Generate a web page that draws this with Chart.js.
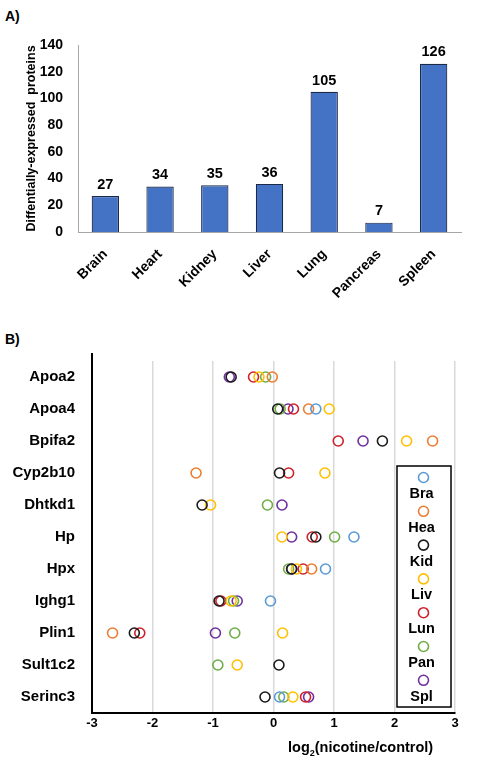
<!DOCTYPE html>
<html>
<head>
<meta charset="utf-8">
<script src="https://cdn.jsdelivr.net/npm/chart.js@4.4.1/dist/chart.umd.min.js"></script>
<style>
  body { margin: 0; background: #fff; font-family: "Liberation Sans", Arial, sans-serif; }
  #page { position: relative; width: 480px; height: 763px; overflow: hidden; }
  .panel-tag { position: absolute; left: 5px; font-weight: bold; font-size: 14px; color: #000; }
  #boxA { position: absolute; left: 0; top: 0; width: 480px; height: 300px; }
  #boxB { position: absolute; left: 0; top: 330px; width: 480px; height: 433px; }
  #xTitleB { position: absolute; left: 288px; top: 739px; font-weight: bold; font-size: 14.5px; color: #000; white-space: nowrap; }
  #xTitleB sub { font-size: 9px; }
</style>
</head>
<body>
<div id="page">
  <div class="panel-tag" style="top:8px">A)</div>
  <div id="boxA"><canvas id="barChart" width="480" height="300"></canvas></div>
  <div class="panel-tag" style="top:331px">B)</div>
  <div id="boxB"><canvas id="dotChart" width="480" height="433"></canvas></div>
  <div id="xTitleB">log<sub>2</sub>(nicotine/control)</div>
</div>
<script>
// Panel A
const tissues = ['Brain', 'Heart', 'Kidney', 'Liver', 'Lung', 'Pancreas', 'Spleen'];
const proteinCounts = [27, 34, 35, 36, 105, 7, 126];
const yTicksA = [0, 20, 40, 60, 80, 100, 120, 140];

// Panel B
const genes = ['Apoa2', 'Apoa4', 'Bpifa2', 'Cyp2b10', 'Dhtkd1', 'Hp', 'Hpx', 'Ighg1', 'Plin1', 'Sult1c2', 'Serinc3'];
const tissueShort = ['Bra', 'Hea', 'Kid', 'Liv', 'Lun', 'Pan', 'Spl'];
const braVals = [null, 0.70, null, null, null, 1.33, 0.86, -0.05, null, null, 0.10];
const heaVals = [-0.02, 0.58, 2.63, -1.28, null, null, 0.63, null, -2.66, null, null];
const kidVals = [-0.70, 0.07, 1.80, 0.10, -1.18, 0.70, 0.30, -0.90, -2.30, 0.09, -0.14];
const livVals = [-0.24, 0.92, 2.20, 0.85, -1.04, 0.14, 0.38, -0.70, 0.15, -0.60, 0.32];
const lunVals = [-0.33, 0.33, 1.07, 0.25, null, 0.64, 0.49, -0.87, -2.21, null, 0.53];
const panVals = [-0.13, 0.11, null, null, -0.10, 1.01, 0.25, -0.66, -0.64, -0.92, 0.17];
const splVals = [-0.73, 0.24, 1.48, null, 0.14, 0.30, 0.30, -0.60, -0.96, null, 0.58];
const xTicksB = [-3, -2, -1, 0, 1, 2, 3];

const tissueColors = ['#5b9bd5', '#ed7d31', '#1a1a1a', '#ffc000', '#d0202a', '#70ad47', '#7030a0'];

const boldFont = (size) => ({ family: '"Liberation Sans", Arial, sans-serif', size: size, weight: 'bold' });

// value labels above bars
const barLabels = {
    id: 'barLabels',
    afterDatasetsDraw(chart) {
        const ctx = chart.ctx;
        const meta = chart.getDatasetMeta(0);
        ctx.save();
        ctx.font = 'bold 14.5px "Liberation Sans", Arial, sans-serif';
        ctx.fillStyle = '#000';
        ctx.textAlign = 'center';
        ctx.textBaseline = 'bottom';
        meta.data.forEach((bar, i) => {
            ctx.fillText(String(proteinCounts[i]), bar.x, bar.y - 4);
        });
        ctx.restore();
    }
};

new Chart(document.getElementById('barChart'), {
    type: 'bar',
    data: {
        labels: tissues,
        datasets: [{
            data: proteinCounts,
            backgroundColor: '#4472c4',
            borderColor: '#1c2946',
            borderWidth: 1.2,
            categoryPercentage: 1,
            barPercentage: 0.5
        }]
    },
    options: {
        responsive: false,
        animation: false,
        layout: { padding: { top: 45, right: 19, left: 24, bottom: 0 } },
        plugins: { legend: { display: false }, tooltip: { enabled: false } },
        scales: {
            x: {
                grid: { display: false },
                border: { display: true, color: '#a6a6a6', width: 1 },
                ticks: { color: '#000', font: boldFont(14), minRotation: 45, maxRotation: 45, padding: 6 },
                afterFit: (s) => { s.height = 68; }
            },
            y: {
                min: 0,
                max: 140,
                afterBuildTicks: (s) => { s.ticks = yTicksA.map(v => ({ value: v })); },
                grid: { display: false },
                border: { display: true, color: '#a6a6a6', width: 1 },
                ticks: { color: '#000', font: boldFont(14), padding: 7 },
                title: {
                    display: true,
                    text: 'Diffentially-expressed  proteins',
                    color: '#000',
                    font: boldFont(12.5),
                    padding: 0
                },
                afterFit: (s) => { s.width = 54; }
            }
        }
    },
    plugins: [barLabels]
});

// legend box with marker above each short label, plus the y axis stub above the plot
const stackedLegend = {
    id: 'stackedLegend',
    afterDraw(chart) {
        const ctx = chart.ctx;
        const area = chart.chartArea;
        ctx.save();
        ctx.strokeStyle = '#000';
        ctx.lineWidth = 2;
        ctx.beginPath();
        ctx.moveTo(area.left, area.top - 8);
        ctx.lineTo(area.left, area.top + 1);
        ctx.stroke();

        const boxL = 397, boxT = 136, boxR = 451, boxB = 377;
        ctx.fillStyle = '#fff';
        ctx.fillRect(boxL, boxT, boxR - boxL, boxB - boxT);
        ctx.lineWidth = 1.5;
        ctx.strokeRect(boxL, boxT, boxR - boxL, boxB - boxT);
        ctx.font = 'bold 14.5px "Liberation Sans", Arial, sans-serif';
        ctx.textAlign = 'center';
        ctx.textBaseline = 'middle';
        chart.data.datasets.forEach((ds, i) => {
            const cy = 147.5 + i * 33.8;
            ctx.beginPath();
            ctx.arc(423.5, cy, 5, 0, Math.PI * 2);
            ctx.strokeStyle = ds.borderColor;
            ctx.lineWidth = 1.6;
            ctx.stroke();
            ctx.fillStyle = '#000';
            ctx.fillText(ds.label, 421.5, cy + 16.5);
        });
        ctx.restore();
    }
};

const seriesB = [braVals, heaVals, kidVals, livVals, lunVals, panVals, splVals];

new Chart(document.getElementById('dotChart'), {
    type: 'scatter',
    data: {
        datasets: seriesB.map((vals, k) => ({
            label: tissueShort[k],
            data: genes.map((g, i) => ({ x: vals[i], y: g })).filter(p => p.x !== null),
            borderColor: tissueColors[k],
            backgroundColor: 'rgba(0,0,0,0)',
            borderWidth: 1.6,
            pointRadius: 5,
            pointHoverRadius: 5,
            showLine: false
        }))
    },
    options: {
        responsive: false,
        animation: false,
        layout: { padding: { top: 31, right: 25, left: 0, bottom: 0 } },
        plugins: { legend: { display: false }, tooltip: { enabled: false } },
        scales: {
            x: {
                type: 'linear',
                min: -3,
                max: 3,
                afterBuildTicks: (s) => { s.ticks = xTicksB.map(v => ({ value: v })); },
                grid: { color: '#d9d9d9', lineWidth: 1.5, drawTicks: false },
                border: { display: true, color: '#000', width: 2 },
                ticks: { color: '#000', font: boldFont(13), padding: 3 },
                afterFit: (s) => { s.height = 50; }
            },
            y: {
                type: 'category',
                labels: genes,
                offset: true,
                grid: { display: false },
                border: { display: true, color: '#000', width: 2 },
                ticks: { color: '#000', font: boldFont(15), padding: 9 },
                afterFit: (s) => { s.width = 92; }
            }
        }
    },
    plugins: [stackedLegend]
});
</script>
</body>
</html>
